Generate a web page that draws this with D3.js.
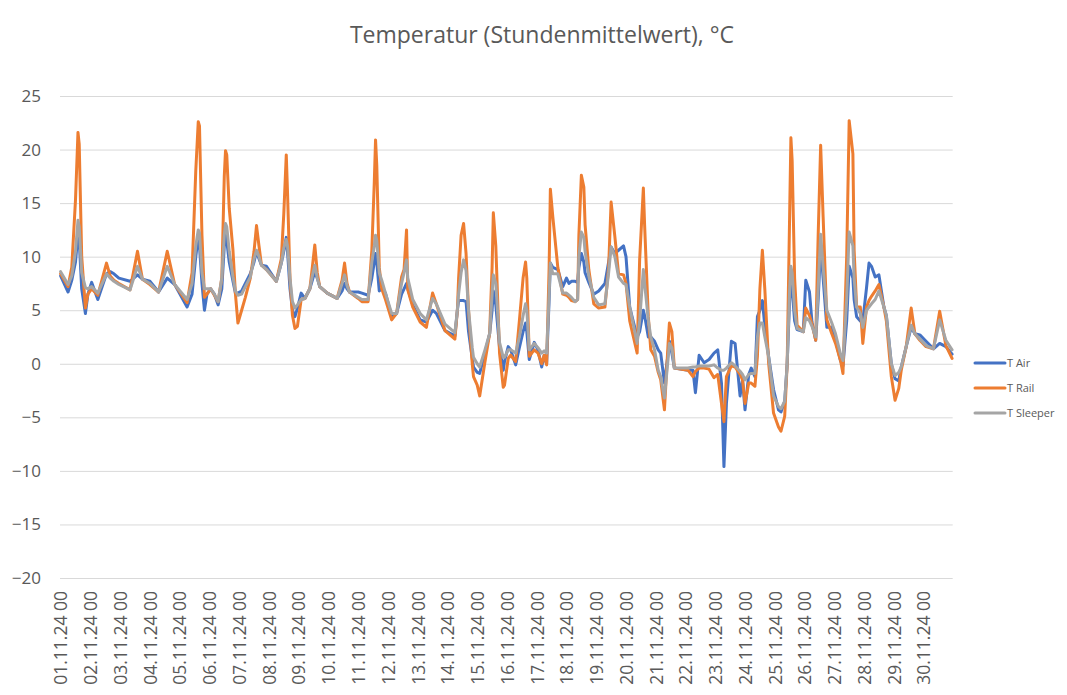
<!DOCTYPE html>
<html>
<head>
<meta charset="utf-8">
<script src="https://cdn.jsdelivr.net/npm/d3@7"></script>
<style>
  html, body { margin: 0; padding: 0; background: #fff; }
  svg { display: block; }
  text { font-family: "Open Sans", "Noto Sans", sans-serif; fill: #595959; }
</style>
</head>
<body>
<svg id="chart" width="1067" height="695"></svg>
<script>
// ---- DATA (hour index since 01.11.24 00, values in °C) ----
const hours = [0,6,9,12,14,15,17,20,22,25,30,37,40,43,47,56,62,66,72,79,86,92,102,106,109,111,112,114,116,118,121,124,127,130,132,133,134,136,139,141,143,146,149,153,156,158,160,162,166,174,178,180,182,183,185,187,189,191,194,197,201,203,205,207,209,215,223,227,229,231,233,240,243,248,251,253,254,255,257,259,262,267,271,275,277,279,280,284,290,295,300,303,310,318,320,321,323,325,327,329,332,333,336,338,342,346,348,349,351,354,357,358,361,363,367,370,373,375,376,378,382,385,388,390,392,394,395,397,401,405,408,410,412,415,417,418,420,422,423,426,430,434,439,442,444,447,450,454,456,459,465,467,470,471,474,476,479,482,484,487,490,491,493,495,506,510,512,515,519,523,527,530,533,535,537,541,544,548,550,552,555,557,560,562,564,566,568,571,575,579,581,584,586,588,589,590,592,594,599,601,604,606,609,611,613,615,618,622,625,629,631,634,636,639,640,642,645,647,650,652,654,657,660,664,666,670,673,676,678,682,686,689,693,698,704,709,714,719];
const tAir = [8.2,6.7,7.8,9.5,12.2,11.5,7.0,4.7,6.5,7.6,6.0,8.4,8.6,8.4,8.0,7.7,8.3,7.9,7.7,6.7,8.0,7.4,5.3,6.5,10.0,11.9,11.0,7.5,5.0,6.5,7.0,6.5,5.5,7.0,11.0,12.5,11.5,9.5,7.7,6.6,6.6,6.8,7.5,8.4,9.5,10.5,9.8,9.2,9.1,7.7,9.4,10.5,11.8,10.5,7.0,5.0,4.4,5.2,6.6,6.1,7.0,7.8,8.6,8.0,7.2,6.6,6.1,6.8,7.5,7.0,6.7,6.7,6.6,6.4,8.0,9.5,10.3,9.5,6.8,7.0,6.6,4.4,4.7,6.5,7.0,7.5,7.0,5.5,4.1,3.9,5.0,4.7,3.1,2.6,5.0,5.9,5.9,5.9,5.8,3.0,0.5,-0.3,-0.8,-0.9,0.9,2.8,5.0,6.8,5.5,1.5,-0.6,0.2,1.6,1.3,-0.1,1.5,3.0,3.8,3.0,0.4,2.0,1.3,-0.3,0.8,0.0,6.0,9.4,9.0,8.8,7.2,8.0,7.5,7.7,7.7,7.6,9.0,10.3,9.5,8.5,7.6,6.5,6.8,7.5,9.5,10.9,10.3,10.6,11.0,10.0,5.3,2.5,3.0,5.0,4.5,2.5,2.5,2.1,1.3,1.0,-1.8,1.0,2.1,1.0,-0.4,-0.6,-0.6,-2.7,0.8,0.1,0.4,1.0,1.3,-1.8,-9.6,-3.7,2.1,1.9,-3.0,-1.5,-4.3,-1.0,-0.4,-1.2,4.4,5.0,5.9,3.5,0.7,-2.4,-4.3,-4.5,-3.5,0.0,6.0,8.5,7.0,4.0,3.2,3.0,7.8,6.7,3.9,2.2,6.0,10.9,8.0,3.4,3.4,2.2,0.3,-0.2,4.0,9.1,8.0,6.0,4.4,4.0,4.0,7.1,9.4,9.1,8.1,8.3,5.3,4.5,0.0,-1.4,-1.6,-0.3,1.6,3.4,2.8,2.7,2.1,1.4,1.9,1.6,0.9];
const tRail = [8.4,7.2,9.0,15.3,21.6,20.5,10.0,5.2,6.5,7.0,6.4,9.4,8.2,7.8,7.5,6.9,10.5,7.9,7.4,6.7,10.5,7.4,5.7,8.5,18.0,22.6,22.2,12.0,6.2,6.5,7.0,6.4,5.8,8.0,17.5,19.9,19.5,14.5,10.6,6.5,3.8,5.0,6.2,8.0,10.5,12.9,11.0,9.2,8.8,7.7,9.8,14.0,19.5,16.0,8.0,4.5,3.3,3.5,6.0,6.1,7.0,9.0,11.1,8.5,7.2,6.6,6.1,7.8,9.4,7.5,6.7,6.1,5.8,5.8,10.6,17.0,20.9,18.5,9.0,7.0,6.0,4.1,4.7,8.1,8.8,12.5,6.9,5.3,3.9,3.4,6.6,5.6,3.1,2.3,5.0,8.0,12.0,13.1,10.3,5.0,0.0,-1.2,-2.0,-3.0,0.0,2.8,9.0,14.1,11.0,1.0,-2.2,-2.0,0.5,0.8,0.2,4.0,8.0,9.5,8.0,0.7,1.3,1.0,0.0,0.8,-0.1,9.0,16.3,13.7,9.0,6.5,6.4,6.2,5.9,5.8,6.0,12.0,17.6,16.5,13.0,8.8,5.6,5.2,5.3,9.0,15.1,11.9,8.4,8.3,7.5,4.0,1.0,9.7,16.4,13.0,4.4,1.3,0.7,-0.8,-1.5,-4.3,2.0,3.8,3.0,-0.4,-0.6,-1.2,-0.7,-0.4,-0.4,-0.5,-1.3,-1.0,-3.7,-5.4,-1.2,-0.2,-0.3,-1.0,-1.5,-3.7,-1.8,-1.8,-2.1,0.7,7.0,10.6,6.9,0.1,-4.6,-5.9,-6.3,-4.9,0.0,14.0,21.1,19.0,8.0,3.6,3.0,5.2,4.5,3.7,2.2,12.0,20.4,13.7,4.1,2.8,1.9,0.3,-0.9,10.0,22.7,19.6,10.6,5.3,5.3,1.9,5.3,5.9,6.3,6.8,7.4,5.3,4.0,-1.2,-3.4,-2.3,-0.6,1.6,5.2,2.8,2.2,1.6,1.4,4.9,1.7,0.5];
const tSleeper = [8.6,7.4,8.2,10.5,13.4,12.8,8.5,7.1,7.0,7.2,6.6,8.4,8.0,7.7,7.4,6.9,9.1,7.9,7.5,6.7,9.1,7.4,6.0,7.5,11.0,12.5,12.2,8.5,7.0,7.0,7.0,6.5,5.8,8.0,12.0,13.1,12.8,10.5,8.1,6.8,6.4,6.5,7.2,8.1,9.8,10.6,10.0,9.2,8.8,7.7,9.4,10.8,11.6,11.0,8.0,5.8,5.2,5.5,6.0,6.1,7.0,8.2,9.2,8.0,7.2,6.6,6.1,7.5,8.3,7.3,6.7,6.2,6.0,6.0,9.5,11.0,12.0,11.5,8.5,7.8,6.6,4.7,4.7,7.5,8.5,9.7,8.0,6.0,4.7,4.1,6.1,5.6,3.7,2.9,5.0,6.5,8.5,9.7,8.7,5.0,1.5,0.6,0.0,-0.3,1.2,2.8,6.5,8.3,7.5,2.0,0.6,0.6,1.3,1.3,1.0,2.5,4.5,5.6,5.0,1.3,1.9,1.5,1.0,1.2,1.0,6.5,9.4,8.4,8.4,6.6,6.6,6.4,6.2,5.8,6.0,10.0,12.3,11.8,10.5,8.2,6.2,5.5,5.6,8.5,10.9,10.0,8.1,7.5,7.4,5.3,1.9,4.0,8.8,7.5,4.1,2.5,1.3,-0.6,-1.2,-3.2,0.5,1.9,1.5,-0.4,-0.4,-0.3,-0.3,-0.2,-0.2,-0.2,-0.1,-0.4,-0.6,-0.6,-0.4,0.1,-0.2,-0.7,-1.0,-1.5,-1.0,-0.9,-0.9,2.5,3.8,3.8,2.5,0.7,-3.0,-4.0,-4.2,-3.5,0.0,7.0,9.1,8.5,5.0,3.3,3.0,4.3,4.0,3.5,2.5,7.0,12.1,9.0,5.0,3.8,2.8,0.9,0.3,6.0,12.3,11.0,8.0,5.3,4.7,3.4,5.0,5.3,5.6,6.0,6.8,5.3,4.5,0.0,-1.1,-0.8,-0.3,1.6,3.6,2.8,2.3,1.7,1.4,4.1,2.2,1.3];
const dayLabels = ["01.11.24 00","02.11.24 00","03.11.24 00","04.11.24 00","05.11.24 00","06.11.24 00","07.11.24 00","08.11.24 00","09.11.24 00","10.11.24 00","11.11.24 00","12.11.24 00","13.11.24 00","14.11.24 00","15.11.24 00","16.11.24 00","17.11.24 00","18.11.24 00","19.11.24 00","20.11.24 00","21.11.24 00","22.11.24 00","23.11.24 00","24.11.24 00","25.11.24 00","26.11.24 00","27.11.24 00","28.11.24 00","29.11.24 00","30.11.24 00"];
const yTicks = [-20,-15,-10,-5,0,5,10,15,20,25];
const seriesNames = ["T Air","T Rail","T Sleeper"];
const seriesColors = ["#4472C4","#ED7D31","#A5A5A5"];
const titleText = "Temperatur (Stundenmittelwert), °C";

// ---- CHART ----
(function () {
  const svg = d3.select("#chart");
  const plotLeft = 60, plotRight = 952.7, plotTop = 96, plotBottom = 578;
  const nHours = 720;

  const x = d3.scaleLinear().domain([-0.5, nHours - 0.5]).range([plotLeft, plotRight]);
  const y = d3.scaleLinear().domain([-20, 25]).range([plotBottom, plotTop]);

  // title
  svg.append("text")
    .attr("x", 542).attr("y", 43)
    .attr("text-anchor", "middle")
    .style("font-size", "23px")
    .text(titleText);

  // gridlines + y labels
  const yAxis = d3.axisLeft(y).tickValues(yTicks).tickSize(-(plotRight - plotLeft)).tickPadding(18).tickFormat(d3.format("d"));
  const gy = svg.append("g").attr("transform", `translate(${plotLeft},0)`).call(yAxis);
  gy.select(".domain").remove();
  gy.selectAll(".tick line").attr("stroke", "#d9d9d9").attr("stroke-width", 1);
  gy.selectAll(".tick text").style("font-size", "17px").attr("fill", "#595959").attr("x", -19);

  // x labels
  const tickHours = dayLabels.map((d, i) => i * 24);
  const xAxis = d3.axisBottom(x).tickValues(tickHours).tickSize(0).tickFormat((d, i) => dayLabels[i]);
  const gx = svg.append("g").attr("transform", `translate(0,${plotBottom})`).call(xAxis);
  gx.select(".domain").remove();
  gx.selectAll(".tick text")
    .style("font-size", "17.5px")
    .attr("fill", "#595959")
    .attr("text-anchor", "end")
    .attr("transform", "rotate(-90)")
    .attr("x", -13)
    .attr("y", 0)
    .attr("dy", "0.36em");

  // lines
  const seriesData = [tAir, tRail, tSleeper];
  const line = d3.line()
    .defined((d, i) => i < hours.length)
    .x((d, i) => x(hours[i])).y(d => y(d));
  seriesData.forEach((vals, k) => {
    svg.append("path")
      .datum(vals)
      .attr("fill", "none")
      .attr("stroke", seriesColors[k])
      .attr("stroke-width", 3)
      .attr("stroke-linejoin", "round")
      .attr("stroke-linecap", "round")
      .attr("d", line);
  });

  // legend
  const lg = svg.append("g");
  seriesNames.forEach((name, k) => {
    const ly = 363 + k * 25;
    lg.append("line").attr("x1", 975).attr("x2", 1005).attr("y1", ly).attr("y2", ly)
      .attr("stroke", seriesColors[k]).attr("stroke-width", 3).attr("stroke-linecap", "round");
    lg.append("text").attr("x", 1007).attr("y", ly).attr("dy", "0.36em")
      .style("font-size", "11px").text(name);
  });
})();
</script>
</body>
</html>
